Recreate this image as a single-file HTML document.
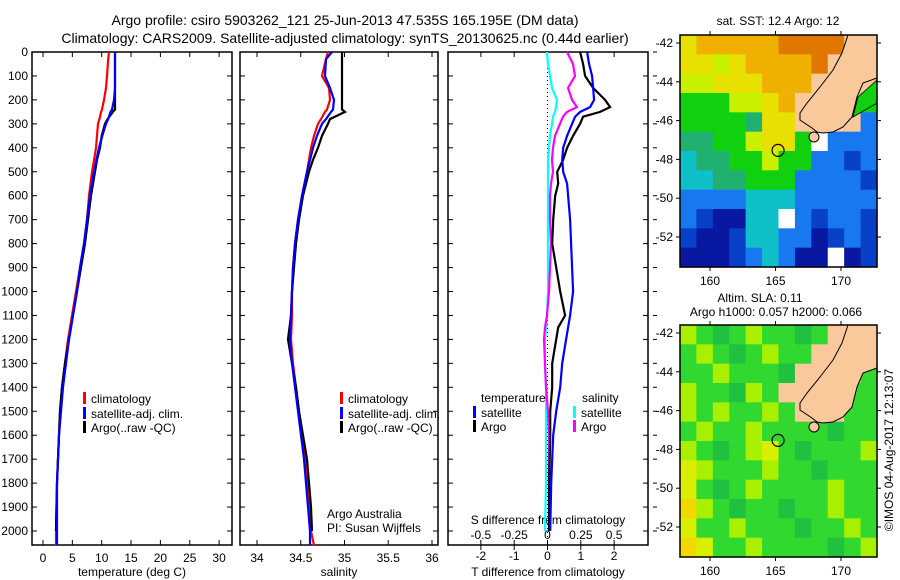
<!DOCTYPE html>
<html><head><meta charset="utf-8"><style>
body{margin:0;background:#fff;}
svg{display:block;font-family:"Liberation Sans",sans-serif;}
text{fill:#000;}
</style></head><body>
<svg id="c" width="900" height="580" viewBox="0 0 900 580">
<rect width="900" height="580" fill="#fff"/>
<text x="345" y="25" font-size="14" text-anchor="middle">Argo profile: csiro 5903262_121 25-Jun-2013 47.535S 165.195E (DM data)</text>
<text x="345" y="43" font-size="14" text-anchor="middle">Climatology: CARS2009. Satellite-adjusted climatology: synTS_20130625.nc (0.44d earlier)</text>
<g id="g"></g>
</svg>
<script>
// ---------- data ----------
const depthsTS=[0,30,100,150,200,240,250,280,300,350,400,450,500,600,700,800,900,1000,1100,1200,1300,1400,1500,1600,1700,1800,1900,2000,2060];
const tempClim=[11.24,11.1,10.9,10.73,10.39,10.05,9.9,9.6,9.37,9.2,9.03,8.7,8.35,7.84,7.5,6.98,6.3,5.62,4.94,4.26,3.75,3.24,2.9,2.73,2.55,2.39,2.3,2.21,2.21];
const tempSat=[12.27,12.27,12.27,12.27,12.1,11.75,11.5,11.1,10.73,10.1,9.54,9.1,8.69,8.0,7.5,6.98,6.3,5.79,5.11,4.43,3.92,3.41,3.07,2.73,2.55,2.39,2.39,2.39,2.39];
const tempArgo=[12.27,12.27,12.27,12.27,12.27,12.27,11.9,11.0,10.56,10.0,9.71,9.2,8.86,8.18,7.67,7.16,6.47,5.79,5.11,4.43,3.75,3.24,2.9,2.73,2.55,2.39,2.3,2.21,null];
const salClim=[34.811,34.789,34.743,34.823,34.834,34.8,34.777,34.731,34.697,34.651,34.617,34.594,34.571,34.514,34.469,34.434,34.411,34.4,34.4,34.389,34.411,34.446,34.48,34.514,34.549,34.571,34.594,34.617,34.651];
const salSat=[34.857,34.789,34.777,34.834,34.88,34.869,34.846,34.789,34.743,34.686,34.64,34.606,34.571,34.514,34.469,34.434,34.411,34.4,34.389,34.377,34.4,34.434,34.469,34.503,34.537,34.56,34.583,34.606,34.606];
const salArgo=[34.971,34.971,34.971,34.971,34.971,34.971,35.006,34.834,34.811,34.743,34.697,34.64,34.594,34.526,34.48,34.446,34.423,34.4,34.389,34.354,34.4,34.446,34.48,34.526,34.571,34.594,34.617,34.629,null];
const depthsDiff=[0,50,100,150,200,230,250,270,300,350,400,450,500,550,600,700,800,900,1000,1100,1150,1200,1300,1400,1500,1600,1800,2000];
const dTArgo=[0.98,1.07,1.13,1.37,1.73,1.88,1.58,1.07,0.98,0.77,0.59,0.47,0.29,0.32,0.23,0.17,0.14,0.26,0.38,0.53,0.32,0.26,0.14,0.14,0.08,0.08,0.05,0.05];
const dTSat=[1.19,1.25,1.34,1.37,1.40,1.28,0.98,0.83,0.74,0.59,0.47,0.44,0.47,0.59,0.62,0.68,0.71,0.74,0.77,0.68,0.62,0.56,0.44,0.38,0.26,0.17,0.11,0.08];
const dSArgo=[0.146,0.191,0.206,0.154,0.184,0.221,0.146,0.116,0.094,0.056,0.041,0.034,0.041,0.026,0.019,0.019,0.026,0.019,0.011,-0.004,-0.019,-0.026,-0.019,-0.011,0.004,0.011,0.011,0.011];
const dSSat=[-0.004,0.004,0.019,0.034,0.071,0.064,0.056,0.041,0.034,0.019,0.011,0.004,0.004,0.004,0.004,0.004,0.004,0.004,0.004,-0.004,-0.011,-0.019,-0.019,-0.011,-0.011,-0.011,-0.011,-0.019];
const depthTicks=[0,100,200,300,400,500,600,700,800,900,1000,1100,1200,1300,1400,1500,1600,1700,1800,1900,2000];
const tempTicks=[0,5,10,15,20,25,30];
const salTicks=[34,34.5,35,35.5,36];
const dTTicks=[-2,-1,0,1,2];
const dSTicks=[-0.5,-0.25,0,0.25,0.5];
const dSTickLabels=["-0.5","-0.25","0","0.25","0.5"];
const lonTicks=[160,165,170];
const latTicks=[-42,-44,-46,-48,-50,-52];
const sstGrid=["YoooooOOOOLL","YYyYooooOLLL","yyYYYoooLLLL","GGGyyYoLLLLG","GGGGgYYLLLLb","ggGGyYYGWbbb","cggGGyGGbbBb","ccggGGGbbbbB","bbbbcccbbbbb","bBNNccWbBbbB","BNNBccbbNBbB","NNNBbcbNNWNB"];
const slaGrid=["yGgGyGGgGLLL","GyGgGyGGLLLL","GGyGGGgLLLLG","yGGgyGLLLLGG","yGyGGyGLLLGG","GyGGyGGGGgGG","yGgGyYGgGGGy","YyGGGyGGgGGG","YGgGyGGGGyGG","oyGgGGgGGyGG","YGGyGGGgGGyG","oYGGyGGGGgGy"];
const argoLon=165.195, argoLat=-47.535;

// ---------- scales ----------
const Y=d=>52+d*0.2395;
const xT=t=>43+t*5.87;
const xS=s=>257+(s-34)*87.5;
const xDT=v=>547.5+v*33.3;
const xDS=v=>547.5+v*133.3;
const lonX=l=>710+(l-160)*13.1;
const latY1=l=>43+(-42-l)*19.4;
const NS='http://www.w3.org/2000/svg';
const G=document.getElementById('g');
function mk(tag,at,parent){const e=document.createElementNS(NS,tag);for(const k in at)e.setAttribute(k,at[k]);(parent||G).appendChild(e);return e;}
function txt(x,y,s,size,anchor,parent){const e=mk('text',{x:x,y:y,'font-size':size,'text-anchor':anchor||'middle'},parent);e.textContent=s;return e;}
function line(xs,ys,color,w){let p=[];for(let i=0;i<xs.length;i++){if(xs[i]===null)continue;p.push(xs[i].toFixed(1)+','+ys[i].toFixed(1));}
 return mk('polyline',{points:p.join(' '),fill:'none',stroke:color,'stroke-width':w||2});}

// ---------- profile panels ----------
const panels=[[32,232],[240,438],[448,648]];
const bottom=545;
panels.forEach((p,i)=>{
 const r=mk('rect',{x:p[0],y:52,width:p[1]-p[0],height:bottom-52,fill:'none',stroke:'#000','stroke-width':1.5});
 
 
 depthTicks.forEach(d=>{
  mk('line',{x1:p[0],x2:p[0]+5,y1:Y(d),y2:Y(d),stroke:'#000'});
  mk('line',{x1:p[1],x2:p[1]-5,y1:Y(d),y2:Y(d),stroke:'#000'});
  if(i==2) mk('line',{x1:p[1]+5,x2:p[1]+9,y1:Y(d),y2:Y(d),stroke:'#000'});
 });
});
depthTicks.forEach(d=>{const t=txt(28,Y(d)+4,String(d),12,'end');
 
 });
tempTicks.forEach(t=>{mk('line',{x1:xT(t),x2:xT(t),y1:bottom,y2:bottom-5,stroke:'#000'});mk('line',{x1:xT(t),x2:xT(t),y1:52,y2:57,stroke:'#000'});
 const e=txt(xT(t),562,String(t),12);
 
 });
salTicks.forEach(t=>{mk('line',{x1:xS(t),x2:xS(t),y1:bottom,y2:bottom-5,stroke:'#000'});mk('line',{x1:xS(t),x2:xS(t),y1:52,y2:57,stroke:'#000'});
 const e=txt(xS(t),562,String(t),12);
 
 });
dTTicks.forEach(t=>{mk('line',{x1:xDT(t),x2:xDT(t),y1:bottom,y2:bottom+5,stroke:'#000'});mk('line',{x1:xDT(t),x2:xDT(t),y1:52,y2:57,stroke:'#000'});
 const e=txt(xDT(t),560,String(t),12);
 
 });
dSTicks.forEach((t,i)=>{mk('line',{x1:xDS(t),x2:xDS(t),y1:bottom,y2:bottom-5,stroke:'#000'});
 const e=txt(xDS(t),539,dSTickLabels[i],12);
 
 });
let e;
e=txt(132,576,'temperature (deg C)',12);
e=txt(339,576,'salinity',12);
e=txt(548,576,'T difference from climatology',12);
e=txt(548,524,'S difference from climatology',12);
e=txt(327,518,'Argo Australia',12,'start');
e=txt(327,532,'PI: Susan Wijffels',12,'start');

// zero line
e=mk('line',{x1:xDT(0),x2:xDT(0),y1:52,y2:bottom,stroke:'#000','stroke-dasharray':'1,3'});



// series
const yTS=depthsTS.map(Y), yD=depthsDiff.map(Y);
e=line(tempClim.map(xT),yTS,'#f00',2.2);
e=line(tempArgo.map(v=>v===null?null:xT(v)),yTS,'#000',2.2);
e=line(tempSat.map(xT),yTS,'#00f',2.2);
e=line(salClim.map(xS),yTS,'#f00',2.2);
e=line(salArgo.map(v=>v===null?null:xS(v)),yTS,'#000',2.2);
e=line(salSat.map(xS),yTS,'#00f',2.2);
e=line(dSSat.map(xDS),yD,'#0ff',2.2);
e=line(dSArgo.map(xDS),yD,'#f0f',2.2);
e=line(dTArgo.map(xDT),yD,'#000',2.2);
e=line(dTSat.map(xDT),yD,'#00f',2.2);

// legends
function leg(x,y,color,label,name){const g=mk('g',{});
 
 
 mk('rect',{x:x,y:y-10,width:3,height:12,fill:color},g);txt(x+8,y+1,label,12,'start',g);}
[[83,'p1'],[340,'p2']].forEach(a=>{
 leg(a[0],402,'#f00','climatology','legend-climatology-'+a[1]);
 leg(a[0],417,'#00f','satellite-adj. clim.','legend-satellite-'+a[1]);
 leg(a[0],431,'#000','Argo(..raw -QC)','legend-argo-'+a[1]);
});
e=txt(481,402,'temperature',12,'start');
e=txt(582,402,'salinity',12,'start');
leg(473,416,'#00f','satellite','legend-t-satellite');
leg(473,430,'#000','Argo','legend-t-argo');
leg(573,416,'#0ff','satellite','legend-s-satellite');
leg(573,430,'#f0f','Argo','legend-s-argo');

// ---------- maps ----------
const sstCol={O:'#e07800',o:'#f0b000',Y:'#e8e000',y:'#c8f000',G:'#10d010',g:'#20b070',c:'#10c0c8',b:'#1878f0',B:'#0840c8',N:'#0818a0',L:'#f9c89b',W:'#ffffff'};
const slaCol={G:'#30d830',g:'#20c040',y:'#a8f000',Y:'#d8f000',o:'#f0d800',L:'#f9c89b'};
const land=[[848,35],[877,35],[877,78],[863,83],[857,97],[852,117],[843,127],[833,132],[823,133],[817,132],[812,128],[800,120],[800,113],[807,103],[820,87],[833,70],[842,53]];
function drawMap(top,grid,cols,name,green){
 const g=mk('g',{});
 
 
 const x0=680,x1=877,cw=(x1-x0)/12,ch=232/12;
 grid.forEach((row,r)=>{for(let c=0;c<12;c++){mk('rect',{x:x0+c*cw,y:top+r*ch,width:cw+0.6,height:ch+0.6,fill:cols[row[c]]},g);}});
 const off=top-35;
 mk('polygon',{points:land.map(p=>p[0]+','+(p[1]+off)).join(' '),fill:'#f9c89b',stroke:'#000','stroke-width':1},g);
 if(green) mk('polygon',{points:`858,${97+off} 877,${80+off} 877,${103+off} 853,${117+off}`,fill:green,stroke:'#000','stroke-width':0.8},g);
 mk('ellipse',{cx:814,cy:137+off,rx:5,ry:5,fill:'#f9c89b',stroke:'#000'},g);
 mk('rect',{x:x0,y:top,width:x1-x0,height:232,fill:'none',stroke:'#000','stroke-width':1.5},g);
 const a=mk('circle',{cx:lonX(argoLon),cy:latY1(argoLat)+off,r:6,fill:'none',stroke:'#000','stroke-width':1.2},g);
 
 
 lonTicks.forEach(l=>{mk('line',{x1:lonX(l),x2:lonX(l),y1:top,y2:top-4,stroke:'#000'},g);mk('line',{x1:lonX(l),x2:lonX(l),y1:top+232,y2:top+236,stroke:'#000'},g);
  txt(lonX(l),top+250,String(l),12,'middle',g);});
 latTicks.forEach(l=>{const y=latY1(l)+off;mk('line',{x1:x0,x2:x0-4,y1:y,y2:y,stroke:'#000'},g);mk('line',{x1:x1,x2:x1+4,y1:y,y2:y,stroke:'#000'},g);
  txt(673,y+4,String(l),12,'end',g);});
}
drawMap(35,sstGrid,sstCol,'sst-map','#10d010');
drawMap(325,slaGrid,slaCol,'sla-map',null);
e=txt(778,25,'sat. SST: 12.4 Argo: 12',12);
e=txt(760,302,'Altim. SLA: 0.11',12);
e=txt(776,316,'Argo h1000: 0.057 h2000: 0.066',12);
e=txt(0,0,'©IMOS 04-Aug-2017 12:13:07',12);e.setAttribute('transform','translate(893,450) rotate(-90)');

</script>
</body></html>
